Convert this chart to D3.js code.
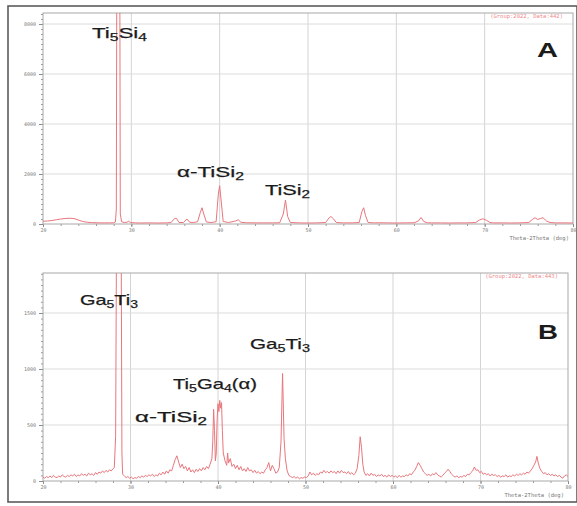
<!DOCTYPE html>
<html>
<head>
<meta charset="utf-8">
<script src="https://cdn.jsdelivr.net/npm/d3@7"></script>
<style>
  body { margin: 0; background: #fff; }
  svg { display: block; }
  .tick text { font-family: "DejaVu Sans Mono", monospace; font-size: 5px; fill: #7a7a7a; }
  .small-note { font-family: "DejaVu Sans Mono", monospace; font-size: 5.5px; }
  .phase { font-family: "Liberation Sans", Arial, sans-serif; fill: #1b1b1b; }
</style>
</head>
<body>
<svg id="chart" width="577" height="506"></svg>
<script>
// 2theta ticks shared by both scans
const xTicks = [20, 30, 40, 50, 60, 70, 80];
const yTicksA = [0, 2000, 4000, 6000, 8000];
const yTicksB = [0, 500, 1000, 1500];

// scan A: [2theta, counts]
const patternA = [
  [20,110],[20.5,120],[21,140],[21.5,170],[22,200],[22.5,220],[23,230],[23.5,220],[24,160],[24.5,100],
  [25,70],[25.5,55],[26,50],[26.5,45],[27,45],[27.5,45],[28,50],[28.2,80],[28.3,600],[28.35,9000],
  [28.7,9000],[28.75,400],[28.9,90],[29.2,60],[29.5,70],[29.7,110],[29.9,60],[30.5,45],[31,40],[32,45],
  [33,40],[34,45],[34.5,60],[34.9,220],[35.1,230],[35.4,60],[35.9,60],[36.3,200],[36.6,70],[37,60],
  [37.5,90],[37.8,450],[38,650],[38.2,400],[38.5,80],[39,60],[39.6,90],[39.85,1200],[40,1530],[40.15,1000],
  [40.4,100],[41,60],[41.8,120],[42.1,170],[42.4,70],[43,50],[44,45],[45,45],[46,45],[46.8,50],
  [47.2,400],[47.45,960],[47.7,300],[48,60],[49,45],[50,40],[51,45],[52,60],[52.4,250],[52.6,300],
  [52.9,200],[53.2,60],[54,45],[55,45],[55.8,60],[56.1,500],[56.3,650],[56.5,350],[56.8,60],[57.5,45],
  [58,50],[59,45],[60,40],[61,45],[62,50],[62.5,120],[62.8,260],[63.1,100],[63.5,50],[64,45],
  [65,45],[66,40],[67,45],[68,45],[69,60],[69.4,160],[69.8,210],[70.2,150],[70.6,60],[71,45],
  [72,45],[73,40],[74,45],[75,60],[75.4,180],[75.7,250],[76,180],[76.3,220],[76.6,250],[77,120],
  [77.4,60],[78,45],[79,45],[80,40]
];

// scan B: [2theta, counts]
const patternB = [
  [20,35],[20.2,25],[20.4,40],[20.6,30],[20.8,45],[21,30],[21.2,50],[21.4,35],[21.6,30],[21.8,45],
  [22,35],[22.2,55],[22.4,40],[22.6,35],[22.8,50],[23,40],[23.2,55],[23.4,45],[23.6,60],[23.8,40],
  [24,55],[24.2,45],[24.4,65],[24.6,50],[24.8,60],[25,45],[25.2,70],[25.4,55],[25.6,65],[25.8,50],
  [26,75],[26.2,60],[26.4,80],[26.6,70],[26.8,90],[27,75],[27.2,95],[27.4,80],[27.6,100],[27.8,90],
  [28,110],[28.15,120],[28.3,400],[28.42,2500],[28.92,2500],[29.02,250],[29.1,60],[29.3,45],[29.5,30],[29.7,40],
  [29.9,25],[30.1,35],[30.3,20],[30.5,30],[30.7,25],[30.9,40],[31.1,30],[31.3,45],[31.5,35],[31.7,50],
  [31.9,40],[32.1,55],[32.3,45],[32.5,60],[32.7,40],[32.9,55],[33.1,45],[33.3,70],[33.5,55],[33.7,80],
  [33.9,60],[34.1,90],[34.3,70],[34.5,100],[34.7,90],[34.9,140],[35.1,190],[35.3,225],[35.5,170],[35.7,120],
  [35.9,150],[36.1,110],[36.3,130],[36.5,90],[36.7,120],[36.9,80],[37.1,100],[37.3,75],[37.5,105],[37.7,85],
  [37.9,110],[38.1,90],[38.3,120],[38.5,100],[38.7,130],[38.9,110],[39.1,150],[39.3,200],[39.4,350],[39.5,640],
  [39.6,450],[39.7,180],[39.8,250],[39.9,550],[40,690],[40.1,620],[40.2,720],[40.3,650],[40.4,700],[40.5,450],
  [40.6,250],[40.8,180],[41,140],[41.1,250],[41.2,160],[41.4,200],[41.6,130],[41.8,150],[42,110],[42.2,140],
  [42.4,100],[42.6,130],[42.8,90],[43,110],[43.2,85],[43.4,120],[43.6,90],[43.8,100],[44,75],[44.2,95],
  [44.4,70],[44.6,85],[44.8,65],[45,80],[45.2,70],[45.4,100],[45.6,120],[45.8,165],[46,90],[46.2,140],
  [46.4,110],[46.6,70],[46.8,80],[47,120],[47.2,350],[47.38,960],[47.55,380],[47.7,200],[47.9,90],
  [48.1,50],[48.3,40],[48.5,30],[48.7,40],[48.9,25],[49.1,35],[49.3,20],[49.5,30],[49.7,25],[49.9,35],
  [50.1,30],[50.3,45],[50.5,80],[50.7,55],[50.9,70],[51.1,50],[51.3,65],[51.5,55],[51.7,80],[51.9,70],
  [52.1,95],[52.3,75],[52.5,85],[52.7,70],[52.9,90],[53.1,75],[53.3,85],[53.5,65],[53.7,90],[53.9,70],
  [54.1,95],[54.3,75],[54.5,80],[54.7,65],[54.9,85],[55.1,60],[55.3,75],[55.5,55],[55.7,70],[55.9,110],
  [56.1,230],[56.25,395],[56.4,300],[56.55,150],[56.7,80],[56.9,50],[57.1,65],[57.3,45],[57.5,70],[57.7,50],
  [57.9,60],[58.1,40],[58.3,55],[58.5,45],[58.7,60],[58.9,40],[59.1,50],[59.3,35],[59.5,55],[59.7,40],
  [59.9,50],[60.1,35],[60.3,45],[60.5,30],[60.7,50],[60.9,35],[61.1,45],[61.3,40],[61.5,55],[61.7,45],
  [61.9,65],[62.1,55],[62.3,80],[62.5,95],[62.7,130],[62.9,165],[63.1,140],[63.3,110],[63.5,80],[63.7,65],
  [63.9,50],[64.1,60],[64.3,45],[64.5,65],[64.7,55],[64.9,75],[65.1,55],[65.3,45],[65.5,35],[65.7,50],
  [65.9,70],[66.1,85],[66.3,105],[66.5,85],[66.7,60],[66.9,45],[67.1,35],[67.3,45],[67.5,30],[67.7,40],
  [67.9,35],[68.1,50],[68.3,40],[68.5,60],[68.7,55],[68.9,75],[69.1,90],[69.3,125],[69.5,95],[69.7,100],
  [69.9,75],[70.1,85],[70.3,60],[70.5,70],[70.7,55],[70.9,65],[71.1,45],[71.3,60],[71.5,50],[71.7,55],
  [71.9,40],[72.1,50],[72.3,35],[72.5,45],[72.7,40],[72.9,55],[73.1,35],[73.3,45],[73.5,40],[73.7,55],
  [73.9,45],[74.1,60],[74.3,50],[74.5,65],[74.7,55],[74.9,70],[75.1,60],[75.3,80],[75.5,70],[75.7,90],
  [75.9,110],[76.1,140],[76.3,170],[76.45,220],[76.6,160],[76.8,110],[77,85],[77.2,65],[77.4,75],[77.6,55],
  [77.8,65],[78,50],[78.2,60],[78.4,45],[78.6,55],[78.8,40],[79,50],[79.2,35],[79.4,25],[79.6,45],
  [79.8,55],[80,40]
];

const phasesA = ['Ti5Si4', 'α-TiSi2', 'TiSi2'];
const phasesB = ['Ga5Ti3', 'Ga5Ti3', 'Ti5Ga4(α)', 'α-TiSi2'];
const panelNames = ['A', 'B'];
const scanNotes = ['(Group:2022, Data:442)', '(Group:2022, Data:443)'];
const xTitle = 'Theta-2Theta (deg)';

let svg = d3.select('#chart');

svg.append('rect')
  .attr('x', 8).attr('y', 6)
  .attr('width', 569).attr('height', 496)
  .attr('fill', 'none')
  .attr('stroke', '#5c5c5c')
  .attr('stroke-width', 1.6);

function drawPhase(g, name, x, y, width, size) {
  let t = g.append('text')
    .attr('class', 'phase')
    .attr('x', x).attr('y', y)
    .attr('font-size', size)
    .attr('stroke', '#1b1b1b').attr('stroke-width', 0.25)
    .attr('textLength', width)
    .attr('lengthAdjust', 'spacingAndGlyphs');
  let parts = name.split(/(\d)/).filter(s => s !== '');
  let down = false;
  parts.forEach(p => {
    let sub = /^\d$/.test(p);
    let span = t.append('tspan').text(p);
    if (sub) {
      span.attr('font-size', size * 0.7).attr('dy', 3);
      down = true;
    } else if (down) {
      span.attr('dy', -3);
      down = false;
    }
  });
}

function drawScan(opt) {
  let x = d3.scaleLinear().domain([20, 80]).range([opt.left, opt.right]);
  let y = d3.scaleLinear().domain([0, opt.yMax]).range([opt.bottom, opt.top]);
  let g = svg.append('g');

  // grid
  g.append('g').selectAll('line')
    .data(xTicks.slice(1, -1))
    .enter().append('line')
    .attr('x1', d => x(d)).attr('x2', d => x(d))
    .attr('y1', opt.top).attr('y2', opt.bottom)
    .attr('stroke', '#d4d4d4').attr('stroke-width', 1);

  g.append('g').selectAll('line')
    .data(opt.yTicks.slice(1))
    .enter().append('line')
    .attr('x1', opt.left).attr('x2', opt.right)
    .attr('y1', d => y(d)).attr('y2', d => y(d))
    .attr('stroke', '#dcdcdc').attr('stroke-width', 1);

  // axes
  let yMinor = d3.axisLeft(y).tickValues(d3.range(0, opt.yMax, opt.yMinorStep)).tickSize(2).tickFormat('');
  g.append('g').attr('transform', `translate(${opt.left},0)`).call(yMinor)
    .call(a => a.select('.domain').remove())
    .call(a => a.selectAll('line').attr('stroke', '#9a9a9a'));

  let yAxis = d3.axisLeft(y).tickValues(opt.yTicks).tickSize(4).tickPadding(3).tickFormat(d3.format('d'));
  g.append('g').attr('transform', `translate(${opt.left},0)`).call(yAxis)
    .call(a => a.select('.domain').remove())
    .call(a => a.selectAll('line').attr('stroke', '#8a8a8a'));

  let xMinor = d3.axisBottom(x).tickValues(d3.range(20, 81, 2)).tickSize(2).tickFormat('');
  g.append('g').attr('transform', `translate(0,${opt.bottom})`).call(xMinor)
    .call(a => a.select('.domain').remove())
    .call(a => a.selectAll('line').attr('stroke', '#9a9a9a'));

  let xAxis = d3.axisBottom(x).tickValues(xTicks).tickSize(3).tickPadding(1).tickFormat(d3.format('d'));
  g.append('g').attr('transform', `translate(0,${opt.bottom})`).call(xAxis)
    .call(a => a.select('.domain').remove())
    .call(a => a.selectAll('line').attr('stroke', '#8a8a8a'));

  g.append('rect')
    .attr('x', opt.left).attr('y', opt.top)
    .attr('width', opt.right - opt.left).attr('height', opt.bottom - opt.top)
    .attr('fill', 'none').attr('stroke', '#a8a8a8').attr('stroke-width', 1);

  // pattern
  let clipId = 'clip' + opt.name;
  g.append('clipPath').attr('id', clipId)
    .append('rect')
    .attr('x', opt.left).attr('y', opt.top)
    .attr('width', opt.right - opt.left).attr('height', opt.bottom - opt.top);

  let line = d3.line().x(d => x(d[0])).y(d => y(d[1]));
  g.append('path')
    .datum(opt.data)
    .attr('clip-path', `url(#${clipId})`)
    .attr('d', line)
    .attr('fill', 'none')
    .attr('stroke', '#e9767c')
    .attr('stroke-width', 1)
    .attr('stroke-linejoin', 'round');

  g.append('text')
    .attr('class', 'small-note')
    .attr('x', opt.right - 10).attr('y', opt.top + 5)
    .attr('text-anchor', 'end')
    .attr('fill', '#ee8a8a')
    .text(opt.note);

  g.append('text')
    .attr('class', 'small-note')
    .attr('x', opt.right - 4).attr('y', opt.bottom + 16)
    .attr('text-anchor', 'end')
    .attr('fill', '#777')
    .text(xTitle);

  return g;
}

let gA = drawScan({
  name: 'A', data: patternA, yMax: 8440, yTicks: yTicksA, yMinorStep: 200,
  left: 43, right: 573, top: 13, bottom: 224, note: scanNotes[0]
});
drawPhase(gA, phasesA[0], 92, 38, 55, 15);
drawPhase(gA, phasesA[1], 177, 177, 67, 15);
drawPhase(gA, phasesA[2], 265, 195, 45, 15);
gA.append('text').attr('class', 'phase')
  .attr('x', 537).attr('y', 57)
  .attr('font-size', 20).attr('font-weight', 'bold')
  .attr('textLength', 21).attr('lengthAdjust', 'spacingAndGlyphs')
  .text(panelNames[0]);

let gB = drawScan({
  name: 'B', data: patternB, yMax: 1857, yTicks: yTicksB, yMinorStep: 50,
  left: 43, right: 568, top: 273, bottom: 481, note: scanNotes[1]
});
drawPhase(gB, phasesB[0], 80, 305, 58, 15);
drawPhase(gB, phasesB[1], 250, 349, 60, 15);
drawPhase(gB, phasesB[2], 173, 389, 84, 15);
drawPhase(gB, phasesB[3], 135, 422, 72, 15);
gB.append('text').attr('class', 'phase')
  .attr('x', 538).attr('y', 339)
  .attr('font-size', 20).attr('font-weight', 'bold')
  .attr('textLength', 20).attr('lengthAdjust', 'spacingAndGlyphs')
  .text(panelNames[1]);
</script>
</body>
</html>
